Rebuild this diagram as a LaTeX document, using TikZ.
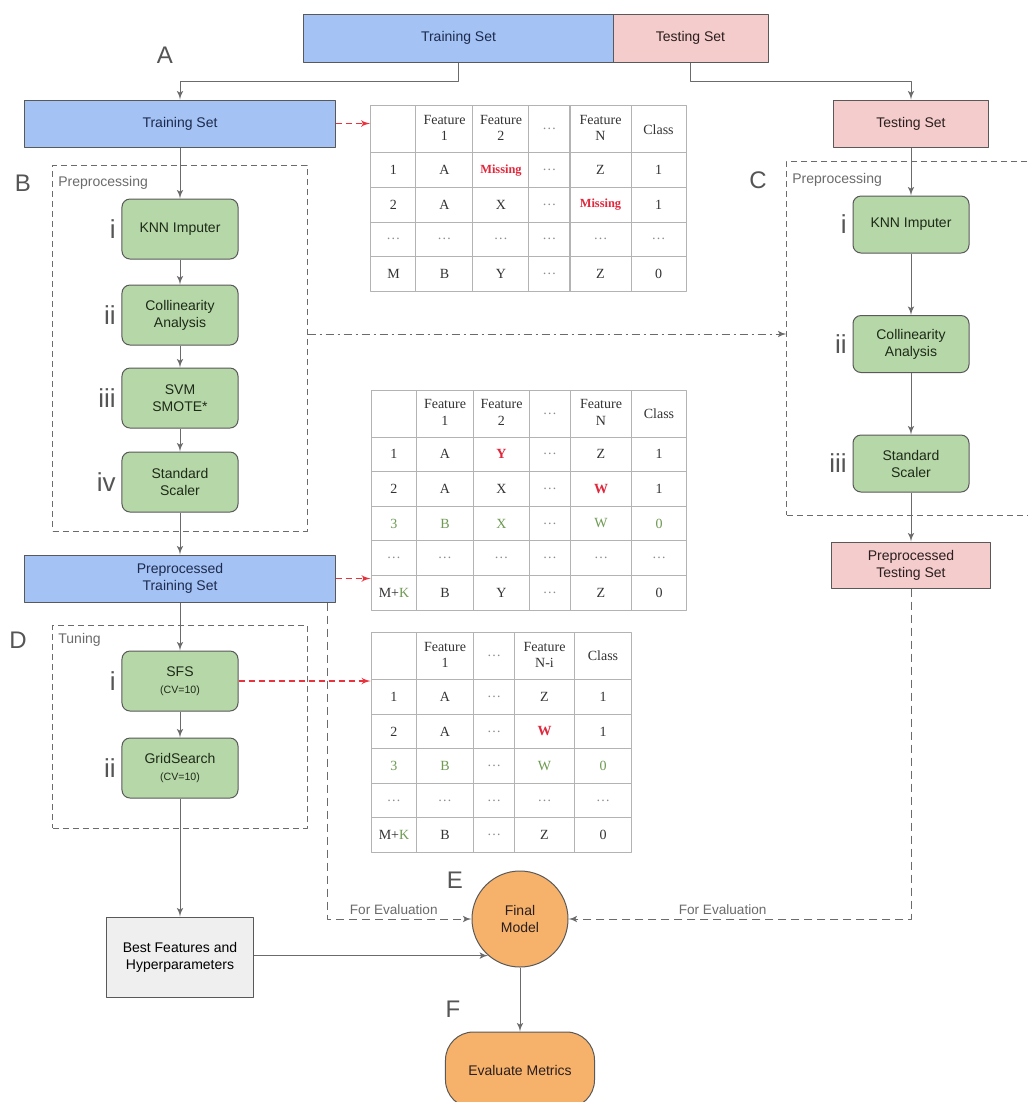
\documentclass[tikz,border=0pt]{standalone}
\usepackage{fontspec}
\setmainfont{Liberation Sans}
\newfontfamily\tabfamily{Liberation Serif}
\usepackage{tikz}
\usetikzlibrary{shapes,arrows,matrix,positioning,calc}

\definecolor{trainblue}{HTML}{A4C2F4}
\definecolor{testpink}{HTML}{F4CCCC}
\definecolor{stepgreen}{HTML}{B6D7A8}
\definecolor{modelorange}{HTML}{F6B26B}
\definecolor{bestgray}{HTML}{EFEFEF}
\definecolor{boxline}{HTML}{595959}
\definecolor{flowgray}{HTML}{6B6B6B}
\definecolor{grpgray}{HTML}{6B6B6B}
\definecolor{taggray}{HTML}{555555}
\definecolor{trainink}{HTML}{1C2B4D}
\definecolor{testink}{HTML}{2B1E1E}
\definecolor{stepink}{HTML}{1E2A18}
\definecolor{tabline}{HTML}{B3B3B3}
\definecolor{tabink}{HTML}{333333}
\definecolor{dotgray}{HTML}{8C8C8C}
\definecolor{missred}{HTML}{E0283C}
\definecolor{synth}{HTML}{6E9A52}
\definecolor{sampred}{HTML}{E8323C}

\newcommand{\stepfont}{\fontsize{7bp}{8.5bp}\selectfont}
\newcommand{\cvfont}{\fontsize{5.3bp}{6.5bp}\selectfont}
\newcommand{\cellfont}{\tabfamily\fontsize{7bp}{8.3bp}\selectfont}
\newcommand{\feat}[1]{\begin{tabular}{@{}c@{}}Feature\\#1\end{tabular}}
\newcommand{\etc}{\textcolor{dotgray}{\dots}}

\begin{document}
\begin{tikzpicture}[>=latex',line join=bevel,x=0.5bp,y=-0.5bp,
  setbox/.style={draw=boxline,line width=0.5bp,inner sep=0pt,minimum width=155bp,minimum height=23.5bp,font=\stepfont,align=center},
  trainbox/.style={setbox,fill=trainblue,text=trainink},
  testbox/.style={setbox,fill=testpink,text=testink,minimum width=77.5bp},
  stepbox/.style={draw=boxline,line width=0.5bp,fill=stepgreen,text=stepink,rounded corners=4bp,minimum width=58bp,minimum height=30bp,inner sep=0pt,font=\stepfont,align=center},
  groupbox/.style={draw=grpgray,line width=0.5bp,dash pattern=on 3bp off 2bp,minimum width=127bp,inner sep=0pt},
  grouptitle/.style={anchor=west,text=grpgray,font=\stepfont,inner sep=0pt},
  flow/.style={draw=flowgray,line width=0.5bp,->},
  rowpeek/.style={draw=sampred,line width=0.6bp,dash pattern=on 3bp off 2bp,->},
  evalflow/.style={draw=flowgray,line width=0.5bp,dash pattern=on 4bp off 2.5bp,->},
  evalnote/.style={text=grpgray,font=\fontsize{6.8bp}{8bp}\selectfont,inner sep=2bp},
  stage/.style={text=taggray,font=\fontsize{12bp}{14bp}\selectfont,inner sep=0pt},
  substep/.style={anchor=east,text=taggray,font=\fontsize{13bp}{15bp}\selectfont,inner sep=0pt},
  datacell/.style={draw=tabline,line width=0.5bp,minimum height=17.3bp,inner sep=0pt,text=tabink,font=\cellfont,anchor=center},
  datatable/.style={matrix of nodes,nodes in empty cells,inner sep=0pt,column sep=-0.5bp,row sep=-0.5bp,
    nodes={datacell},row 1/.style={nodes={minimum height=23.5bp}}},
  miss/.style={text=missred,font=\tabfamily\bfseries\fontsize{6.2bp}{7bp}\selectfont},
  fixed/.style={text=missred,font=\cellfont\bfseries},
]
\fill [white] (0,0) rectangle (1028,1102);
\useasboundingbox (0,0) rectangle (1028,1102);
%%
\node (grpB) at (180,348) [groupbox,minimum height=183bp] {};
  \node (grpD) at (180,726.5) [groupbox,minimum height=101.5bp] {};
  \node (grpC) at (913.5,338) [groupbox,minimum width=126.5bp,minimum height=177bp] {};
  \node (ttlB) at (58,183) [grouptitle] {Preprocessing};
  \node (ttlD) at (58,640) [grouptitle] {Tuning};
  \node (ttlC) at (792,180) [grouptitle] {Preprocessing};
%
\node (trainTop) at (458.5,38) [trainbox,minimum width=154.5bp,minimum height=24bp] {Training Set};
  \node (testTop) at (690.5,38) [testbox,minimum height=24bp] {Testing Set};
  \node (trainSet) at (180,123.5) [trainbox] {Training Set};
  \node (testSet) at (911,123.5) [testbox] {Testing Set};
  \node (knnL) at (180,229) [stepbox] {KNN Imputer};
  \node (collL) at (180,315) [stepbox] {Collinearity\\Analysis};
  \node (smoteL) at (180,398) [stepbox] {SVM\\SMOTE*};
  \node (scaleL) at (180,482) [stepbox] {Standard\\Scaler};
  \node (prepTrain) at (180,578.5) [trainbox] {Preprocessed\\Training Set};
  \node (sfs) at (180,681) [stepbox] {SFS\\{\cvfont(CV=10)}};
  \node (grid) at (180,768) [stepbox] {GridSearch\\{\cvfont(CV=10)}};
  \node (best) at (180,957) [draw=boxline,line width=0.5bp,fill=bestgray,minimum width=73bp,minimum height=40bp,inner sep=0pt,font=\stepfont,align=center] {Best Features and\\Hyperparameters};
  \node (final) at (520,919) [draw=boxline,line width=0.5bp,fill=modelorange,circle,minimum size=48bp,inner sep=0pt,font=\stepfont,align=center,text=testink] {Final\\Model};
  \node (evalM) at (520,1070) [draw=boxline,line width=0.5bp,fill=modelorange,rounded corners=14bp,minimum width=74.5bp,minimum height=38bp,font=\stepfont,text=testink] {Evaluate Metrics};
  \node (knnR) at (911,224.5) [stepbox,minimum height=28.5bp] {KNN Imputer};
  \node (collR) at (911,344) [stepbox,minimum height=28.5bp] {Collinearity\\Analysis};
  \node (scaleR) at (911,463.5) [stepbox,minimum height=28.5bp] {Standard\\Scaler};
  \node (prepTest) at (911,565) [testbox,minimum width=79.5bp,minimum height=23bp] {Preprocessed\\Testing Set};
%
\node (tagA) at (165,55) [stage] {A};
  \node (tagB) at (23,183) [stage] {B};
  \node (tagC) at (758,180) [stage] {C};
  \node (tagD) at (18,640) [stage] {D};
  \node (tagE) at (455,880) [stage] {E};
  \node (tagF) at (453,1009) [stage] {F};
  \node (nL1) at (116,229) [substep] {i};
  \node (nL2) at (116,315) [substep] {ii};
  \node (nL3) at (116,398) [substep] {iii};
  \node (nL4) at (116,482) [substep] {iv};
  \node (nD1) at (116,681) [substep] {i};
  \node (nD2) at (116,768) [substep] {ii};
  \node (nR1) at (847,224.5) [substep] {i};
  \node (nR2) at (847,344) [substep] {ii};
  \node (nR3) at (847,463.5) [substep] {iii};
%
\matrix (tabA) at (528.5,198.5) [datatable,
    column 1/.style={nodes={minimum width=22.5bp}},column 2/.style={nodes={minimum width=28.5bp}},
    column 3/.style={nodes={minimum width=28bp}},column 4/.style={nodes={minimum width=20.5bp}},
    column 5/.style={nodes={minimum width=30.5bp}},column 6/.style={nodes={minimum width=27.5bp}}] {
   & \feat{1} & \feat{2} & \etc & \feat{N} & Class \\
  1 & A & |[miss]| Missing & \etc & Z & 1 \\
  2 & A & X & \etc & |[miss]| Missing & 1 \\
  \etc & \etc & \etc & \etc & \etc & \etc \\
  M & B & Y & \etc & Z & 0 \\
};
\matrix (tabB) at (529,500) [datatable,row 4/.style={nodes={text=synth}},
    column 1/.style={nodes={minimum width=22.5bp}},column 2/.style={nodes={minimum width=28.5bp}},
    column 3/.style={nodes={minimum width=28bp}},column 4/.style={nodes={minimum width=20.5bp}},
    column 5/.style={nodes={minimum width=30.5bp}},column 6/.style={nodes={minimum width=27.5bp}}] {
   & \feat{1} & \feat{2} & \etc & \feat{N} & Class \\
  1 & A & |[fixed]| Y & \etc & Z & 1 \\
  2 & A & X & \etc & |[fixed]| W & 1 \\
  3 & B & X & \etc & W & 0 \\
  \etc & \etc & \etc & \etc & \etc & \etc \\
  M+\textcolor{synth}{K} & B & Y & \etc & Z & 0 \\
};
\matrix (tabC) at (501.5,742.5) [datatable,row 4/.style={nodes={text=synth}},
    column 1/.style={nodes={minimum width=22.5bp}},column 2/.style={nodes={minimum width=28.5bp}},
    column 3/.style={nodes={minimum width=20.5bp}},column 4/.style={nodes={minimum width=30bp}},
    column 5/.style={nodes={minimum width=28.5bp}}] {
   & \feat{1} & \etc & \feat{N-i} & Class \\
  1 & A & \etc & Z & 1 \\
  2 & A & \etc & |[fixed]| W & 1 \\
  3 & B & \etc & W & 0 \\
  \etc & \etc & \etc & \etc & \etc \\
  M+\textcolor{synth}{K} & B & \etc & Z & 0 \\
};
%
\draw [flow] (trainTop.south) -- ++(0,19) -| (trainSet.north);
  \draw [flow] (testTop.south) -- ++(0,19) -| (testSet.north);
  \draw [flow] (trainSet) -- (knnL);
  \draw [flow] (knnL) -- (collL);
  \draw [flow] (collL) -- (smoteL);
  \draw [flow] (smoteL) -- (scaleL);
  \draw [flow] (scaleL) -- (prepTrain);
  \draw [flow] (prepTrain) -- (sfs);
  \draw [flow] (sfs) -- (grid);
  \draw [flow] (grid) -- (best);
  \draw [flow] (testSet) -- (knnR);
  \draw [flow] (knnR) -- (collR);
  \draw [flow] (collR) -- (scaleR);
  \draw [flow] (scaleR) -- (prepTest);
  \draw [flow] (best.east |- final.229) -- (final.229);
  \draw [flow] (final) -- (evalM);
  \draw [rowpeek] (trainSet.east) -- (trainSet.east -| tabA.west);
  \draw [rowpeek] (prepTrain.east) -- (prepTrain.east -| tabB.west);
  \draw [rowpeek] (sfs.east) -- (sfs.east -| tabC.west);
  \draw [draw=flowgray,line width=0.5bp,dash pattern=on 4bp off 2bp on 1bp off 2bp,->] ([yshift=7bp]grpB.east) -- ([yshift=7bp]grpB.east -| grpC.west);
  \draw [evalflow] ([xshift=-4bp]prepTrain.south east) |- (final.west) node [evalnote,pos=0.73,above] (noteL) {For Evaluation};
  \draw [evalflow] (prepTest.south) |- (final.east) node [evalnote,pos=0.775,above] (noteR) {For Evaluation};
%
\end{tikzpicture}
\end{document}
